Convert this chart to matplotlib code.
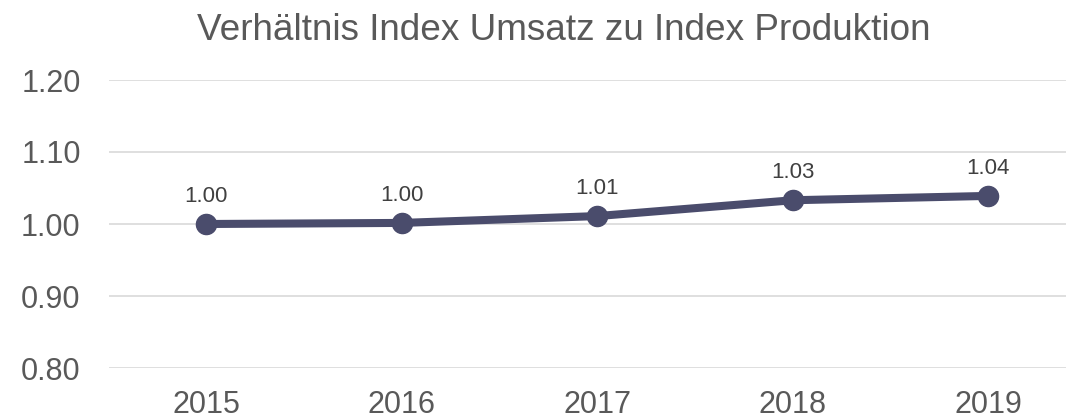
import matplotlib.pyplot as plt

# Daten
jahre = ["2015", "2016", "2017", "2018", "2019"]
verhaeltnis = [1.000, 1.0015, 1.011, 1.033, 1.039]
beschriftung = ["1.00", "1.00", "1.01", "1.03", "1.04"]
y_ticks = [0.80, 0.90, 1.00, 1.10, 1.20]

plt.rcParams["font.family"] = ["Liberation Sans", "DejaVu Sans"]

fig = plt.figure(figsize=(10.66, 4.2), dpi=100)
# Kategorienachse: Mitte erste Kategorie bei x=206px, Abstand ~195.5px
ax = fig.add_axes([108.5 / 1066, 52 / 420, 977.5 / 1066, 288 / 420])

x = range(len(jahre))
ax.plot(x, verhaeltnis, color="#4a4c6c", linewidth=5.8, marker="o",
        markersize=14.5, solid_capstyle="round", zorder=3)

for xi, yi, txt in zip(x, verhaeltnis, beschriftung):
    ax.annotate(txt, (xi, yi), xytext=(0, 16), textcoords="offset points",
                ha="center", va="baseline", fontsize=16, color="#404040")

ax.set_xlim(-0.5, len(jahre) - 0.5)
ax.set_ylim(0.80, 1.20)
ax.set_yticks(y_ticks)
ax.set_yticklabels([f"{v:.2f}" for v in y_ticks])
ax.set_xticks(list(x))
ax.set_xticklabels(jahre)

ax.grid(axis="y", color="#d9d9d9", linewidth=1.2)
ax.set_axisbelow(True)
for s in ax.spines.values():
    s.set_visible(False)
ax.tick_params(axis="both", length=0, labelsize=22, colors="#595959")
ax.tick_params(axis="y", pad=20)
ax.tick_params(axis="x", pad=16)

fig.text(563.5 / 1066, 1 - 30 / 420, "Verhältnis Index Umsatz zu Index Produktion",
         ha="center", va="center", fontsize=26.6, color="#595959")

fig.savefig("out.png", dpi=100)
